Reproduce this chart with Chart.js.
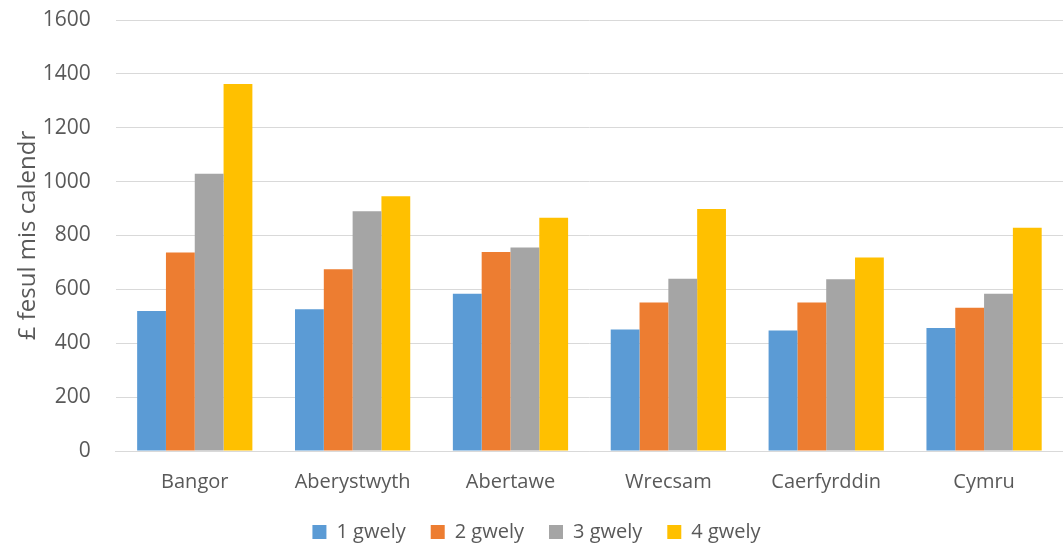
<!DOCTYPE html>
<html>
<head>
<meta charset="utf-8">
<script src="https://cdn.jsdelivr.net/npm/chart.js@4"></script>
<style>
  html, body { margin: 0; padding: 0; background: #fff; }
  #wrap { width: 1063px; height: 545px; position: relative; }
</style>
</head>
<body>
<div id="wrap"><canvas id="chart"></canvas></div>
<script>
const categories = ['Bangor', 'Aberystwyth', 'Abertawe', 'Wrecsam', 'Caerfyrddin', 'Cymru'];
const gwely1 = [520, 526, 584, 451, 447, 457];
const gwely2 = [737, 675, 739, 551, 551, 532];
const gwely3 = [1029, 890, 755, 639, 638, 584];
const gwely4 = [1362, 946, 866, 898, 718, 829];
const seriesNames = ['1 gwely', '2 gwely', '3 gwely', '4 gwely'];
const colors = ['#5b9bd5', '#ed7d31', '#a5a5a5', '#ffc000'];

const textColor = '#595959';
const font = 'Open Sans';

const datasets = [gwely1, gwely2, gwely3, gwely4].map((data, i) => ({
  label: seriesNames[i],
  data,
  backgroundColor: colors[i],
  borderWidth: 0,
  categoryPercentage: 0.73,
  barPercentage: 1
}));

// legend padding doubles as item spacing, so trim its height a bit
const legendTrim = {
  id: 'legendTrim',
  beforeInit(chart) {
    const lg = chart.legend;
    const fit = lg.fit;
    lg.fit = function () {
      fit.call(this);
      this.height -= 7;
    };
  }
};

new Chart(document.getElementById('chart'), {
  type: 'bar',
  data: { labels: categories, datasets },
  plugins: [legendTrim],
  options: {
    responsive: true,
    maintainAspectRatio: false,
    animation: false,
    layout: { padding: { top: 20, right: 0, left: 10, bottom: 0 } },
    plugins: {
      tooltip: { enabled: false },
      legend: {
        position: 'bottom',
        labels: {
          color: textColor,
          font: { family: font, size: 20 },
          boxWidth: 14,
          boxHeight: 14,
          padding: 25
        }
      }
    },
    scales: {
      x: {
        grid: { display: false, drawTicks: false },
        border: { color: '#d9d9d9', width: 1 },
        ticks: { color: textColor, font: { family: font, size: 20 }, padding: 19 },
        afterFit: s => { s.paddingTop = 0; s.height -= 16; }
      },
      y: {
        min: 0,
        max: 1600,
        ticks: {
          stepSize: 200,
          color: textColor,
          font: { family: font, size: 21 },
          padding: 25,
          callback: v => String(v)
        },
        grid: { color: '#d9d9d9', drawTicks: false },
        border: { display: false },
        title: {
          display: true,
          text: '£ fesul mis calendr',
          color: textColor,
          font: { family: font, size: 24 },
          padding: { top: 4, bottom: -25 }
        },
        afterFit: s => { s.paddingTop = 0; }
      }
    }
  }
});
</script>
</body>
</html>
